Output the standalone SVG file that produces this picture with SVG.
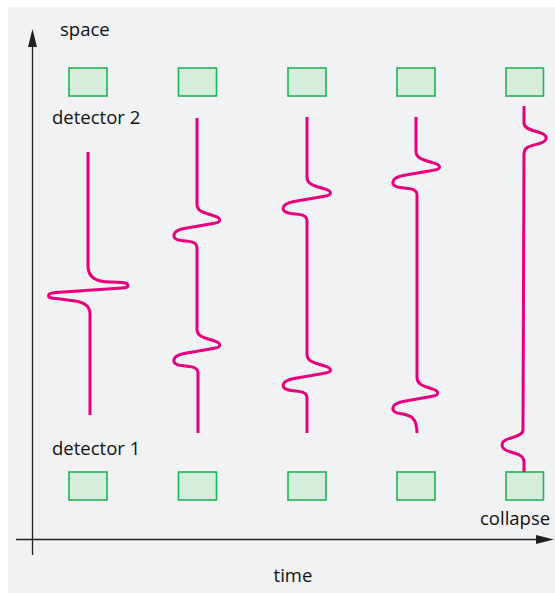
<svg xmlns="http://www.w3.org/2000/svg" width="555" height="593" viewBox="0 0 555 593">
<style>
.bg{fill:#f1f2f4}
.det{fill:#d6ecdd;stroke:#21b357;stroke-width:1.6}
.wave{fill:none;stroke:#e6007e;stroke-width:3}
.axis{stroke:#231f20;stroke-width:1.3;fill:none}
.head{fill:#231f20}
.lbl{font-family:"Open Sans","Noto Sans",sans-serif;font-size:18.5px;fill:#111111}
</style>
<rect class="bg" x="8" y="7" width="547" height="586"/>
<g id="axes">
<line class="axis" x1="32.5" y1="45" x2="32.5" y2="555"/>
<polygon class="head" points="32.5,29 28,47 37,47"/>
<line class="axis" x1="16" y1="539.5" x2="540" y2="539.5"/>
<polygon class="head" points="554,539.5 536,535 536,544"/>
</g>
<g id="detectors2">
<g id="d2-1"><rect class="det" x="69" y="68" width="38" height="28"/></g>
<g id="d2-2"><rect class="det" x="178.5" y="68" width="38" height="28"/></g>
<g id="d2-3"><rect class="det" x="288" y="68" width="38" height="28"/></g>
<g id="d2-4"><rect class="det" x="397" y="68" width="38" height="28"/></g>
<g id="d2-5"><rect class="det" x="506" y="68" width="37.5" height="28"/></g>
</g>
<g id="detectors1">
<g id="d1-1"><rect class="det" x="69" y="472" width="38" height="28"/></g>
<g id="d1-2"><rect class="det" x="178.5" y="472" width="38" height="28"/></g>
<g id="d1-3"><rect class="det" x="288" y="472" width="38" height="28"/></g>
<g id="d1-4"><rect class="det" x="397" y="472" width="38" height="28"/></g>
<g id="d1-5"><rect class="det" x="506" y="472" width="37.5" height="28"/></g>
</g>
<g id="waves">
<path class="wave" d="M88,152 L88,266 Q88,282 110,282 L122,282.5 C130,283 130,288 122,288 L56,292.5 C46,293 46,298.5 56,298.5 L75,301 Q90,303 90,314 L90,415"/>
<path class="wave" d="M197,118 L197,204 C197,212 205,213 213,215.5 C222,218 222,222.5 213,223.5 L184,228.5 C171,231 171,239.5 181,240.5 C192,241.5 197,242 197,248 L197,329 C197,337 205,338 213,340.5 C222,343 222,347.5 213,348.5 L184,353.5 C171,356 171,364.5 181,365.5 C192,366.5 198,367 198,373 L198,433"/>
<path class="wave" d="M307,117 L307,177 C307,185 315,186 323,188.5 C333,191 333,195.5 323,196.5 L294,201.5 C280,204 280,212.5 291,213.5 C302,214.5 307,215 307,221 L307,354 C307,362 315,363 323,365.5 C333,368 333,372.5 323,373.5 L294,378.5 C280,381 280,389.5 291,390.5 C302,391.5 307,392 307,398 L307,433"/>
<path class="wave" d="M416,117 L416,151 C416,159 424,160 432,162.5 C442,165 442,169.5 432,170.5 L403,175.5 C390,178 390,186.5 400,187.5 C411,188.5 417,189 417,195 L417,377 C417,385 424,386 431,388.5 C440,391 440,395.5 431,396.5 L403,401.5 C390,404 390,412.5 400,413.5 C411,415 417,418 417,433"/>
<path class="wave" d="M524,106 L524,123 C524,128 530,130 538,132 C549,135 549,141 538,144 C530,146 524,147 524,154 L523,430 C523,434 518,436 511,438 C499,441 499,449 511,452 C518,454 524,456 524,462 L524,472"/>
</g>
<g id="labels">
<text class="lbl" x="60" y="36">space</text>
<text class="lbl" x="52" y="124">detector 2</text>
<text class="lbl" x="52" y="455">detector 1</text>
<text class="lbl" x="480" y="525">collapse</text>
<text class="lbl" x="293" y="582" text-anchor="middle">time</text>
</g>
</svg>
